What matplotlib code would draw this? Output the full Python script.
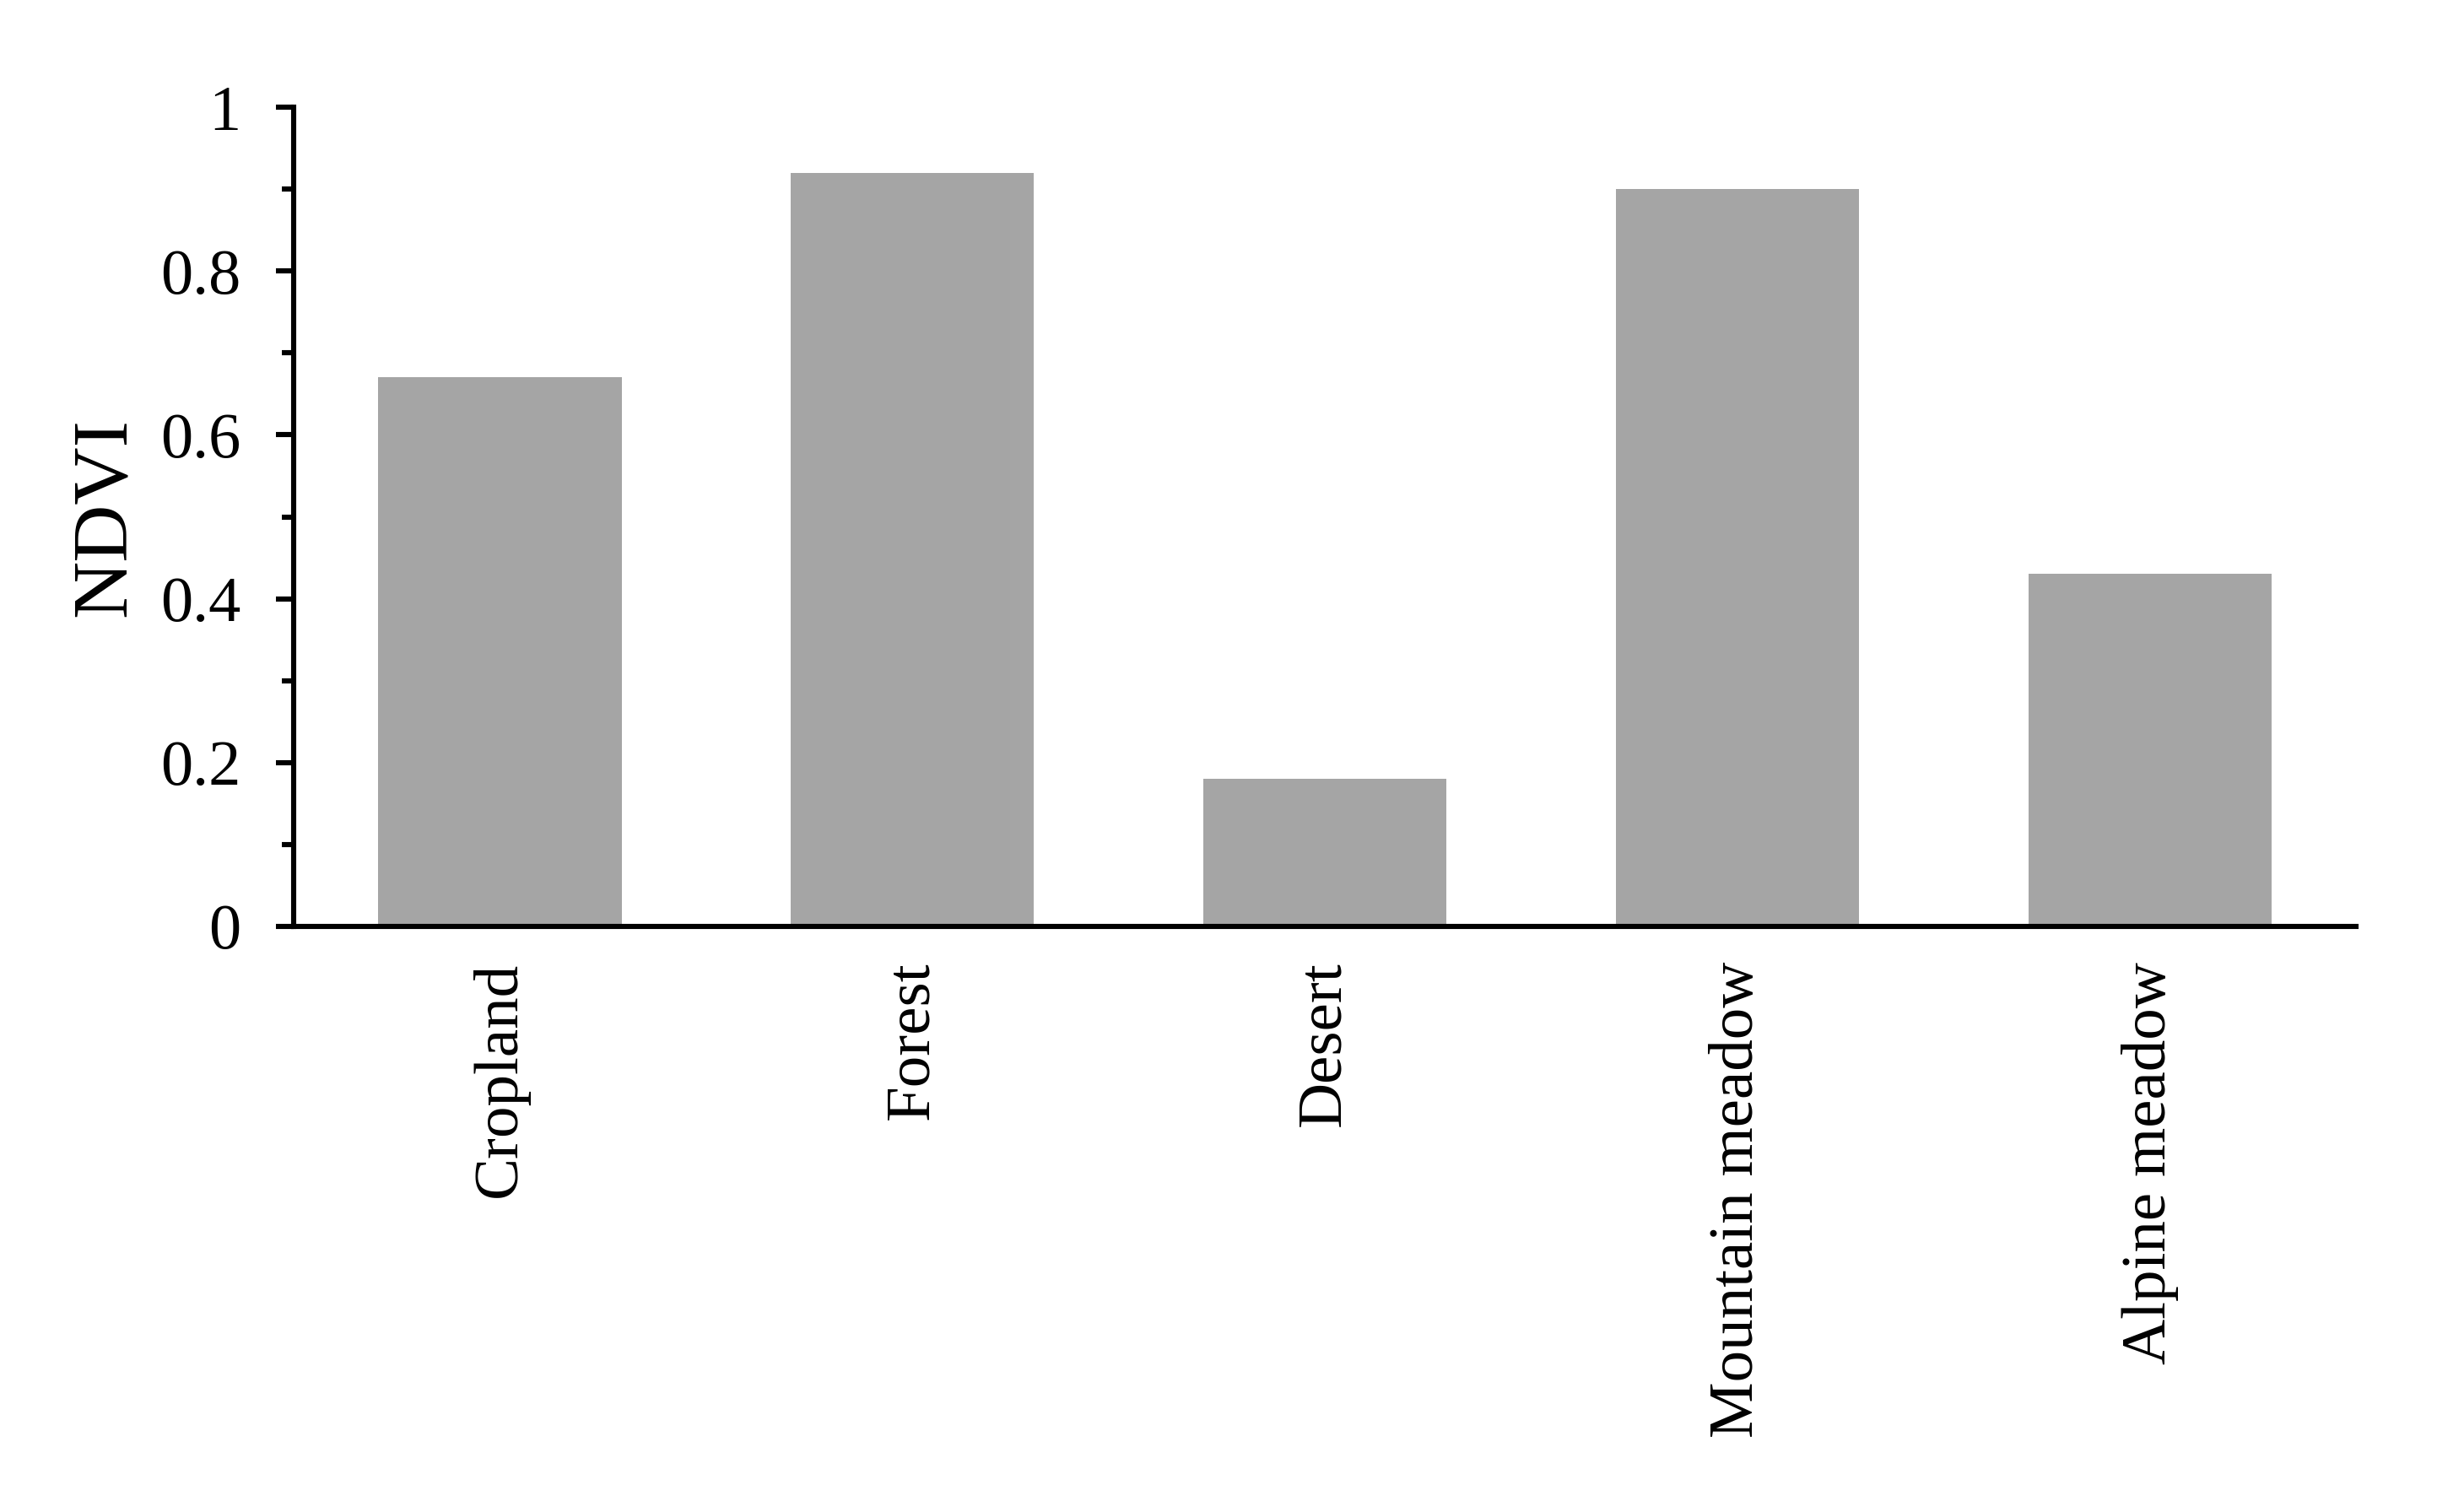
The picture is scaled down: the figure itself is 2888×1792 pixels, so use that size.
import matplotlib.pyplot as plt
from matplotlib.ticker import MultipleLocator, FuncFormatter

# Data
categories = ['Cropland', 'Forest', 'Desert', 'Mountain meadow', 'Alpine meadow']
ndvi = [0.67, 0.92, 0.18, 0.90, 0.43]


def plot_ndvi():
    plt.rcParams['font.family'] = ['Liberation Serif', 'DejaVu Serif']

    fig = plt.figure(figsize=(14.44, 8.96), dpi=200)
    ax = fig.add_axes([0.1205, 0.3873, 0.8463, 0.5418])

    x = range(len(categories))
    ax.bar(x, ndvi, width=0.59, color='#a5a5a5', zorder=1)

    ax.set_xlim(-0.5, len(categories) - 0.5)
    ax.set_ylim(0, 1)
    ax.set_xticks(list(x))
    ax.set_xticklabels(categories, rotation=90, fontsize=27)

    ax.yaxis.set_major_locator(MultipleLocator(0.2))
    ax.yaxis.set_minor_locator(MultipleLocator(0.1))
    ax.yaxis.set_major_formatter(FuncFormatter(lambda v, p: f'{v:g}'))

    ax.tick_params(axis='y', which='major', direction='out', length=7.5, width=2.2,
                   labelsize=27.5, pad=15)
    ax.tick_params(axis='y', which='minor', direction='out', length=5, width=2.2)
    ax.tick_params(axis='x', which='both', length=0, pad=15)

    for side in ('top', 'right'):
        ax.spines[side].set_visible(False)
    for side in ('left', 'bottom'):
        ax.spines[side].set_linewidth(2.2)

    ax.set_ylabel('NDVI', fontsize=34, labelpad=8)

    fig.savefig('out.png', dpi=200)


if __name__ == "__main__":
    plot_ndvi()
